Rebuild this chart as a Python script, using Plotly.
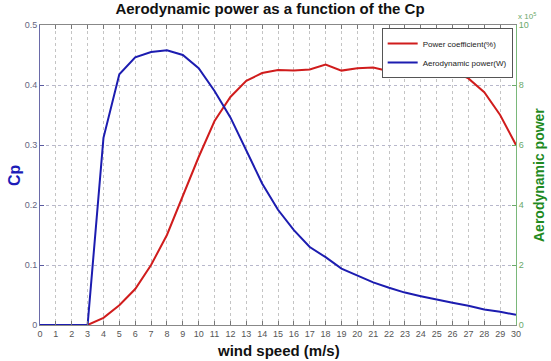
import plotly.graph_objects as go

wind_speed = list(range(0, 31))
power_coefficient = [0, 0, 0, 0, 0.012, 0.033, 0.06, 0.10, 0.15, 0.215, 0.28,
                     0.34, 0.38, 0.407, 0.42, 0.425, 0.424, 0.426, 0.434, 0.424,
                     0.428, 0.429, 0.423, 0.428, 0.423, 0.428, 0.423, 0.411,
                     0.388, 0.35, 0.30]
aerodynamic_power = [0, 0, 0, 0, 0.312, 0.418, 0.446, 0.455, 0.458, 0.45, 0.428,
                     0.39, 0.346, 0.292, 0.236, 0.192, 0.158, 0.13, 0.113, 0.094,
                     0.082, 0.071, 0.062, 0.054, 0.048, 0.042, 0.037, 0.032,
                     0.026, 0.022, 0.017]
left_ticks = [0, 0.1, 0.2, 0.3, 0.4, 0.5]
left_tick_text = ["0", "0.1", "0.2", "0.3", "0.4", "0.5"]
right_ticks = [0, 2, 4, 6, 8, 10]

FONT = "Liberation Sans, Arial, sans-serif"

fig = go.Figure()
fig.add_trace(go.Scatter(x=wind_speed, y=power_coefficient, mode="lines",
                         name="Power coefficient(%)",
                         line=dict(color="#d01c1c", width=2)))
fig.add_trace(go.Scatter(x=wind_speed, y=aerodynamic_power, mode="lines",
                         name="Aerodynamic power(W)",
                         line=dict(color="#1c1cb0", width=2)))
# trace on the right axis (drawn transparent) so the secondary axis is active
fig.add_trace(go.Scatter(x=[0, 30], y=[0, 10], mode="lines", yaxis="y2",
                         showlegend=False, hoverinfo="skip",
                         line=dict(color="rgba(0,0,0,0)", width=1)))

fig.update_layout(
    width=551, height=361,
    margin=dict(l=40, r=35, t=25, b=36, autoexpand=False),
    paper_bgcolor="white", plot_bgcolor="white",
    font=dict(family=FONT, size=9, color="#555555"),
    title=dict(text="<b>Aerodynamic power as a function of the Cp</b>",
               x=0.49, xanchor="center", y=0.99, yanchor="top",
               font=dict(family=FONT, size=15, color="#111111")),
    xaxis=dict(range=[0, 30], tickmode="array", tickvals=wind_speed,
               automargin=False,
               ticks="inside", ticklen=4, tickcolor="#777777",
               showline=True, linecolor="#888888", linewidth=1, mirror="ticks",
               showgrid=True, gridcolor="#c4c4c4", griddash="dot", gridwidth=1,
               zeroline=False,
               tickfont=dict(family=FONT, size=9, color="#555555")),
    yaxis=dict(range=[0, 0.5], tickmode="array", tickvals=left_ticks,
               ticktext=left_tick_text, automargin=False,
               ticks="inside", ticklen=4, tickcolor="#5a5aa0",
               showline=True, linecolor="#6a6aa8", linewidth=1,
               showgrid=True, gridcolor="#b8b8cc", griddash="dot", gridwidth=1,
               zeroline=False,
               tickfont=dict(family=FONT, size=9, color="#666680")),
    yaxis2=dict(range=[0, 10], overlaying="y", side="right",
                tickmode="array", tickvals=right_ticks, automargin=False,
                ticks="inside", ticklen=4, tickcolor="#6aa86a",
                showline=True, linecolor="#7ab87a", linewidth=1,
                showgrid=False, zeroline=False,
                tickfont=dict(family=FONT, size=9, color="#6aa86a")),
    legend=dict(x=0.993, y=0.99, xanchor="right", yanchor="top",
                bgcolor="white", bordercolor="#555555", borderwidth=1,
                font=dict(family=FONT, size=8, color="#222222"),
                itemwidth=30, tracegroupgap=0),
    annotations=[
        dict(text="x 10<sup>5</sup>", xref="paper", yref="paper",
             x=1.0, y=1.0, xanchor="left", yanchor="bottom",
             showarrow=False, yshift=2,
             font=dict(family=FONT, size=8, color="#6aa86a")),
        dict(text="<b>wind speed (m/s)</b>", xref="paper", yref="paper",
             x=0.5, y=0.0, xanchor="center", yanchor="middle",
             yshift=-25, showarrow=False,
             font=dict(family=FONT, size=15, color="#111111")),
        dict(text="<b>Cp</b>", xref="paper", yref="paper",
             x=0.0, y=0.5, xanchor="center", yanchor="middle",
             xshift=-26, textangle=-90, showarrow=False,
             font=dict(family=FONT, size=16, color="#1c1cb8")),
        dict(text="<b>Aerodynamic power</b>", xref="paper", yref="paper",
             x=1.0, y=0.5, xanchor="center", yanchor="middle",
             xshift=23, textangle=-90, showarrow=False,
             font=dict(family=FONT, size=14, color="#1f8a1f")),
    ],
    showlegend=True,
)

fig.write_html("out.html",
               config={"displayModeBar": False},
               post_script="document.body.style.margin='0px';"
                           "document.body.style.padding='0px';")
